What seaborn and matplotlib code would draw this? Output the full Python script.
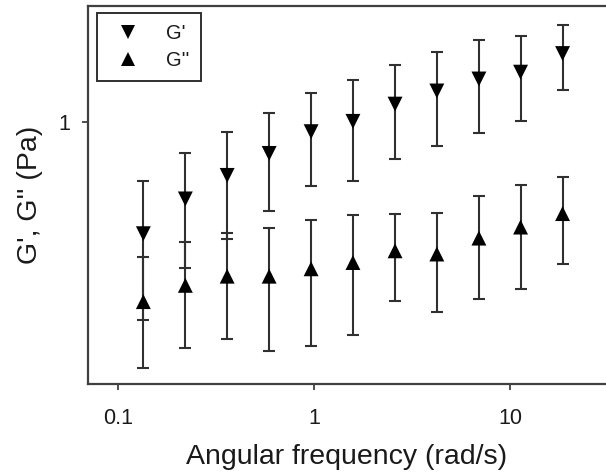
import matplotlib
matplotlib.use("Agg")
import matplotlib.pyplot as plt
from matplotlib.lines import Line2D
import seaborn as sns
import pandas as pd
import numpy as np

# Data (log-log axes)
freq = [0.135, 0.221, 0.361, 0.591, 0.967, 1.58, 2.59, 4.23, 6.93, 11.3, 18.5]
g_storage = [0.442, 0.570, 0.677, 0.795, 0.932, 1.005, 1.14, 1.255, 1.37, 1.44, 1.65]
g_storage_err = [0.207, 0.227, 0.251, 0.272, 0.306, 0.356, 0.374, 0.417, 0.448, 0.43, 0.384]
g_loss = [0.269, 0.303, 0.324, 0.324, 0.342, 0.358, 0.39, 0.381, 0.428, 0.464, 0.512]
g_loss_err = [0.103, 0.112, 0.12, 0.137, 0.148, 0.147, 0.12, 0.132, 0.153, 0.169, 0.157]
series_names = ["G'", "G''"]
x_ticks = [0.1, 1, 10]
x_tick_labels = ["0.1", "1", "10"]
y_ticks = [1]
y_tick_labels = ["1"]

sns.set_style("ticks")
plt.rcParams["font.family"] = ["Liberation Sans", "DejaVu Sans"]

df = pd.DataFrame({
    "freq": freq * 2,
    "value": g_storage + g_loss,
    "err": g_storage_err + g_loss_err,
    "series": [series_names[0]] * len(freq) + [series_names[1]] * len(freq),
})

fig = plt.figure(figsize=(6.06, 4.74), dpi=100)
ax = fig.add_axes([88 / 606, 90 / 474, 1 - 88 / 606, 378 / 474])

err_col = "#303030"
for name in series_names:
    sub = df[df["series"] == name]
    ax.errorbar(sub["freq"], sub["value"], yerr=sub["err"], fmt="none",
                ecolor=err_col, elinewidth=1.5, capsize=4.3, capthick=1.5, zorder=2)

sns.scatterplot(data=df, x="freq", y="value", style="series",
                markers={series_names[0]: "v", series_names[1]: "^"},
                color="black", s=115, linewidth=0, edgecolor="black",
                legend=False, ax=ax, zorder=3)

ax.set_xscale("log")
ax.set_yscale("log")
ax.set_xlim(0.0705, 30.8)
ax.set_ylim(0.1473, 2.336)
ax.minorticks_off()
ax.set_xticks(x_ticks)
ax.set_xticklabels(x_tick_labels)
ax.set_yticks(y_ticks)
ax.set_yticklabels(y_tick_labels)
ax.minorticks_off()

spine_col = "#404040"
for side in ["left", "bottom", "top"]:
    ax.spines[side].set_visible(True)
    ax.spines[side].set_color(spine_col)
    ax.spines[side].set_linewidth(1.6)
ax.spines["right"].set_visible(False)

ax.tick_params(axis="both", direction="out", length=4, width=1.3, color=spine_col,
               labelsize=15.5, labelcolor="#1a1a1a")
ax.tick_params(axis="x", pad=13)
ax.tick_params(axis="y", pad=9)

ax.set_xlabel("Angular frequency (rad/s)", fontsize=20.5, color="#1a1a1a", labelpad=11)
ax.set_ylabel("G', G'' (Pa)", fontsize=20.5, color="#1a1a1a", labelpad=11)

handles = [
    Line2D([], [], linestyle="none", marker="v", color="black", markersize=10.5, markeredgewidth=0),
    Line2D([], [], linestyle="none", marker="^", color="black", markersize=10.5, markeredgewidth=0),
]
leg = ax.legend(handles, series_names, loc="upper left",
                bbox_to_anchor=(9 / 518, 1 - 7 / 378), borderaxespad=0,
                fontsize=14.5, frameon=True, fancybox=False, framealpha=1,
                edgecolor="#303030", handlelength=2.0, handletextpad=0.9,
                labelspacing=0.4, borderpad=0.55)
leg.get_frame().set_linewidth(1.4)
for t in leg.get_texts():
    t.set_color("#1a1a1a")

fig.savefig("out.png", dpi=100)
